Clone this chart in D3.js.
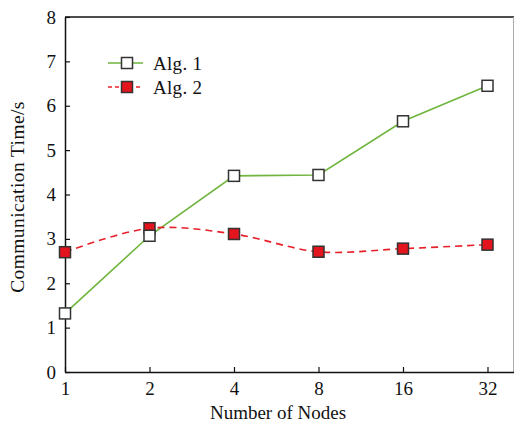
<!DOCTYPE html>
<html>
<head>
<meta charset="utf-8">
<script src="https://cdn.jsdelivr.net/npm/d3@7"></script>
<style>
  body { margin: 0; background: #fff; }
  text { font-family: "Liberation Serif", "Times New Roman", serif; fill: #111; }
</style>
</head>
<body>
<div id="plot"></div>
<script>
var nodes = ['1', '2', '4', '8', '16', '32'];
var alg1 = [1.32, 3.07, 4.42, 4.44, 5.65, 6.45];
var alg2 = [2.70, 3.24, 3.11, 2.71, 2.78, 2.87];
var yticks = [0, 1, 2, 3, 4, 5, 6, 7, 8];

var W = 515, H = 427;
var m = {top: 17, right: 1, bottom: 55, left: 65};
var w = W - m.left - m.right;
var h = H - m.top - m.bottom;

var svg = d3.select('#plot').append('svg')
  .attr('width', W)
  .attr('height', H);

var g = svg.append('g')
  .attr('transform', 'translate(' + m.left + ',' + m.top + ')');

var x = d3.scalePoint().domain(nodes).range([0, 422.5]);
var y = d3.scaleLinear().domain([0, 8]).range([h, 0]);

// frame: top black, right grey
g.append('line').attr('x1', 0).attr('x2', w).attr('y1', 0).attr('y2', 0)
  .attr('stroke', '#111').attr('stroke-width', 1.5);
g.append('line').attr('x1', w - 0.5).attr('x2', w - 0.5).attr('y1', 0).attr('y2', h)
  .attr('stroke', '#aaa').attr('stroke-width', 1);

var xaxis = d3.axisBottom(x).tickSizeInner(-5).tickSizeOuter(0).tickPadding(10);
var yaxis = d3.axisLeft(y).tickValues(yticks).tickSizeInner(-5).tickSizeOuter(0).tickPadding(9);

var gx = g.append('g')
  .attr('transform', 'translate(0,' + h + ')')
  .call(xaxis);
var gy = g.append('g').call(yaxis);

[gx, gy].forEach(function(a) {
  a.select('.domain').attr('stroke', '#111').attr('stroke-width', 1.5);
  a.selectAll('.tick line').attr('stroke', '#111').attr('stroke-width', 1.2);
  a.selectAll('.tick text')
    .attr('font-family', '"Liberation Serif", "Times New Roman", serif')
    .attr('font-size', 19).attr('fill', '#111');
});
gx.select('.domain').attr('d', 'M0,0.5H' + w);

// lines
var line1 = d3.line()
  .x(function(d, i) { return x(nodes[i]); })
  .y(function(d) { return y(d); });

var line2 = d3.line()
  .x(function(d, i) { return x(nodes[i]); })
  .y(function(d) { return y(d); })
  .curve(d3.curveCatmullRom.alpha(0.5));

g.append('path').datum(alg1)
  .attr('d', line1)
  .attr('fill', 'none')
  .attr('stroke', '#6fb53e')
  .attr('stroke-width', 1.6);

g.append('path').datum(alg2)
  .attr('d', line2)
  .attr('fill', 'none')
  .attr('stroke', '#e8202a')
  .attr('stroke-width', 1.6)
  .attr('stroke-dasharray', '7,5');

var s = 11;
function squares(data, fill) {
  g.selectAll(null).data(data).enter()
    .append('rect')
    .attr('x', function(d, i) { return x(nodes[i]) - s / 2; })
    .attr('y', function(d) { return y(d) - s / 2; })
    .attr('width', s).attr('height', s)
    .attr('fill', fill)
    .attr('stroke', '#333')
    .attr('stroke-width', 1.5);
}
squares(alg2, '#e3141d');
squares(alg1, '#fff');

// legend
var legend = [
  {name: 'Alg. 1', color: '#6fb53e', fill: '#fff', dash: null, y: 63},
  {name: 'Alg. 2', color: '#e8202a', fill: '#e3141d', dash: '4,3', y: 87}
];
legend.forEach(function(l) {
  svg.append('line')
    .attr('x1', 108).attr('x2', 143)
    .attr('y1', l.y).attr('y2', l.y)
    .attr('stroke', l.color).attr('stroke-width', 1.6)
    .attr('stroke-dasharray', l.dash);
  svg.append('rect')
    .attr('x', 127 - s / 2).attr('y', l.y - s / 2)
    .attr('width', s).attr('height', s)
    .attr('fill', l.fill).attr('stroke', '#333').attr('stroke-width', 1.5);
  svg.append('text')
    .attr('x', 153).attr('y', l.y + 7)
    .attr('font-size', 19)
    .attr('letter-spacing', 0.3)
    .text(l.name);
});

// axis titles
svg.append('text')
  .attr('x', 278).attr('y', 419)
  .attr('text-anchor', 'middle')
  .attr('font-size', 19)
  .text('Number of Nodes');

svg.append('text')
  .attr('transform', 'translate(24,197) rotate(-90)')
  .attr('text-anchor', 'middle')
  .attr('font-size', 19.5)
  .attr('letter-spacing', 0.4)
  .text('Communication Time/s');
</script>
</body>
</html>
